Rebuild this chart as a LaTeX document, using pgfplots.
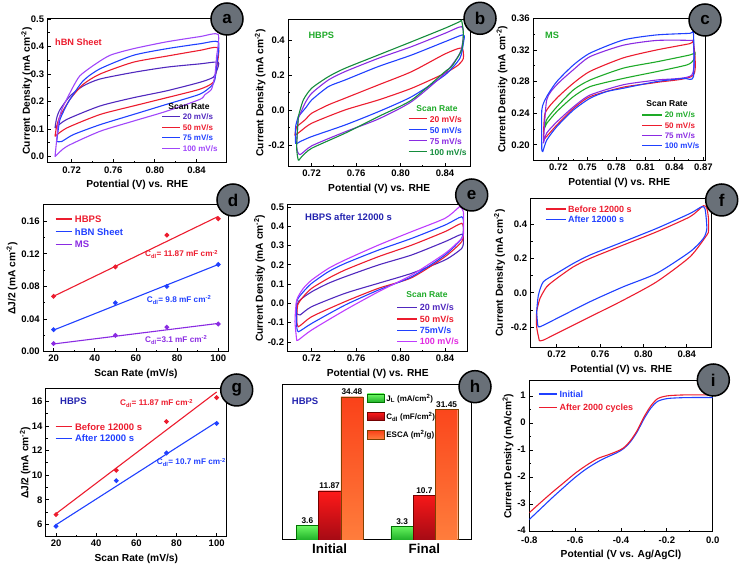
\documentclass[border=0pt]{standalone}
\usepackage{fontspec}
\setmainfont{Liberation Sans}
\usepackage{pgfplots}
\pgfplotsset{compat=1.18}

\definecolor{cred}{RGB}{236,28,46}
\definecolor{cblue}{RGB}{32,64,255}
\definecolor{cviol}{RGB}{160,70,250}
\definecolor{cindigo}{RGB}{80,40,190}
\definecolor{cpurp}{RGB}{138,43,226}
\definecolor{cdgreen}{RGB}{20,140,60}
\definecolor{cgreen}{RGB}{30,170,40}
\definecolor{cmag}{RGB}{190,60,255}
\definecolor{cmagt}{RGB}{225,40,225}
\definecolor{cnavy}{RGB}{35,35,175}
\definecolor{cgray}{RGB}{105,112,120}

\pgfplotsset{
  panel/.style={
    scale only axis, tick pos=left,
    /pgf/number format/assume math mode=true,
    tick label style={font=\fontsize{9.5}{10}\selectfont\bfseries},
    label style={font=\fontsize{10.2}{11}\selectfont\bfseries},
    axis line style={line width=1pt},
    every tick/.style={black, line width=0.8pt},
    major tick length=3.5pt, minor tick length=2pt,
    minor x tick num=1, minor y tick num=1,
    legend cell align=left,
    every axis plot post/.append style={line width=1.1pt},
  },
  fx2/.style={xticklabel style={/pgf/number format/.cd,fixed,fixed zerofill,precision=2}},
  fy1/.style={yticklabel style={/pgf/number format/.cd,fixed,fixed zerofill,precision=1}},
  fy2/.style={yticklabel style={/pgf/number format/.cd,fixed,fixed zerofill,precision=2}},
  cvlab/.style={xlabel={Potential (V) vs. RHE}, ylabel={Current Density (mA cm\textsuperscript{-2})}},
}
\newcommand\TX[5]{\node[anchor=#1, text=#2, font=\fontsize{#3}{#3}\selectfont\bfseries, inner sep=0pt] at (#4) {#5};}
\newcommand\CIRC[2]{\node[circle, draw=black, line width=1.5pt, fill=cgray, minimum size=32pt, inner sep=0pt, font=\fontsize{17}{17}\selectfont\bfseries] at (#1) {#2};}

\begin{document}
\begin{tikzpicture}
\path[use as bounding box] (0,0) rectangle (740pt,567pt);

% ---------- (a) hBN sheet ----------
\begin{axis}[panel, cvlab, fx2, fy1, at={(47.7pt,404pt)}, width=179pt, height=144pt,
  xmin=0.697, xmax=0.869, ymin=-0.023, ymax=0.5,
  xtick={0.72,0.76,0.80,0.84}, ytick={0,0.1,0.2,0.3,0.4,0.5},
  ylabel style={yshift=-8pt},
  legend style={at={(0.637,0.342)}, anchor=north west, draw=none, fill=none, inner sep=0pt, outer sep=0pt, row sep=4.5pt,
    nodes={inner xsep=2pt, inner ysep=0pt, text height=6pt, text depth=0pt}, font=\fontsize{8}{8}\selectfont\bfseries},
  legend image code/.code={\draw[#1, line width=1.1pt] (0pt,0pt) -- (18pt,0pt);}]
\addplot[cindigo, smooth, tension=0.4] coordinates {
 (0.704,0.104) (0.7056,0.14) (0.7088,0.171) (0.7184,0.220) (0.7312,0.257) (0.7472,0.282) (0.7792,0.306) (0.8112,0.325) (0.8432,0.337) (0.8608,0.343)
 (0.8592,0.31) (0.856,0.288) (0.8432,0.270) (0.8112,0.239) (0.7792,0.214) (0.7472,0.184) (0.7152,0.135) (0.704,0.104)};
\addlegendentry{\textcolor{cindigo}{20 mV/s}}
\addplot[cred, smooth, tension=0.4] coordinates {
 (0.704,0.0735) (0.7056,0.11) (0.7088,0.147) (0.7184,0.208) (0.7312,0.263) (0.7472,0.300) (0.7792,0.343) (0.8112,0.365) (0.8432,0.386) (0.8608,0.395)
 (0.8592,0.32) (0.856,0.27) (0.8432,0.245) (0.8112,0.214) (0.7792,0.184) (0.7472,0.153) (0.7152,0.104) (0.704,0.0735)};
\addlegendentry{\textcolor{cred}{50 mV/s}}
\addplot[cblue, smooth, tension=0.4] coordinates {
 (0.7056,0.055) (0.7072,0.10) (0.7088,0.135) (0.7136,0.175) (0.7184,0.208) (0.7312,0.276) (0.7472,0.319) (0.7792,0.368) (0.8112,0.392) (0.8432,0.410) (0.8608,0.417)
 (0.8600,0.35) (0.8576,0.28) (0.8544,0.257) (0.8432,0.227) (0.8112,0.190) (0.7792,0.153) (0.7472,0.116) (0.7216,0.080) (0.7104,0.055) (0.7056,0.055)};
\addlegendentry{\textcolor{cblue}{75 mV/s}}
\addplot[cviol, smooth, tension=0.4] coordinates {
 (0.704,0.000) (0.7056,0.06) (0.7072,0.123) (0.7104,0.17) (0.7152,0.208) (0.7216,0.255) (0.728,0.294) (0.7408,0.331) (0.7568,0.368) (0.7792,0.392) (0.8112,0.417) (0.8432,0.436) (0.8608,0.444)
 (0.8592,0.36) (0.8576,0.294) (0.8544,0.245) (0.848,0.225) (0.8432,0.208) (0.8112,0.165) (0.7792,0.129) (0.7472,0.092) (0.7152,0.037) (0.704,0.0)};
\addlegendentry{\textcolor{cviol}{100 mV/s}}
\end{axis}

% ---------- (b) HBPS ----------
\begin{axis}[panel, cvlab, fx2, fy1, at={(288.3pt,400.3pt)}, width=181.7pt, height=147.4pt,
  xmin=0.699, xmax=0.8625, ymin=-0.324, ymax=0.518,
  xtick={0.72,0.76,0.80,0.84}, ytick={-0.2,0,0.2,0.4},
  ylabel style={yshift=-4pt},
  legend style={at={(0.659,0.345)}, anchor=north west, draw=none, fill=none, inner sep=0pt, outer sep=0pt, row sep=4.8pt,
    nodes={inner xsep=2pt, inner ysep=0pt, text height=6.2pt, text depth=0pt}, font=\fontsize{8.5}{8.5}\selectfont\bfseries},
  legend image code/.code={\draw[#1, line width=1.1pt] (0pt,0pt) -- (18.7pt,0pt);}]
\addplot[cred, smooth, tension=0.4] coordinates {
 (0.7065,-0.095) (0.714,-0.057) (0.72,-0.019) (0.735,0.029) (0.75,0.067) (0.78,0.143) (0.81,0.219) (0.84,0.320) (0.855,0.354)
 (0.8565,0.295) (0.852,0.257) (0.84,0.21) (0.81,0.124) (0.78,0.057) (0.75,0.0) (0.72,-0.076) (0.7095,-0.124) (0.705,-0.143) (0.7065,-0.095)};
\addlegendentry{\textcolor{cred}{20 mV/s}}
\addplot[cblue, smooth, tension=0.4] coordinates {
 (0.708,-0.038) (0.7155,0.019) (0.72,0.057) (0.735,0.133) (0.75,0.171) (0.78,0.248) (0.81,0.314) (0.84,0.39) (0.8565,0.429)
 (0.8565,0.381) (0.8534,0.295) (0.84,0.2) (0.81,0.076) (0.78,-0.01) (0.75,-0.086) (0.72,-0.152) (0.7095,-0.181) (0.7056,-0.19) (0.7056,-0.095) (0.708,-0.038)};
\addlegendentry{\textcolor{cblue}{50 mV/s}}
\addplot[cpurp, smooth, tension=0.4] coordinates {
 (0.708,-0.048) (0.714,0.038) (0.72,0.095) (0.735,0.171) (0.75,0.219) (0.78,0.295) (0.81,0.362) (0.84,0.438) (0.855,0.476)
 (0.8565,0.419) (0.8534,0.324) (0.84,0.21) (0.81,0.048) (0.78,-0.052) (0.75,-0.125) (0.72,-0.205) (0.7095,-0.255) (0.7065,-0.21) (0.708,-0.048)};
\addlegendentry{\textcolor{cpurp}{75 mV/s}}
\addplot[cdgreen, smooth, tension=0.4] coordinates {
 (0.708,-0.038) (0.7125,0.057) (0.72,0.124) (0.735,0.19) (0.75,0.238) (0.78,0.314) (0.81,0.39) (0.84,0.467) (0.8534,0.505) (0.855,0.51)
 (0.8565,0.438) (0.855,0.343) (0.846,0.248) (0.84,0.219) (0.81,0.057) (0.78,-0.038) (0.75,-0.133) (0.72,-0.219) (0.711,-0.267) (0.708,-0.286) (0.7065,-0.21) (0.708,-0.038)};
\addlegendentry{\textcolor{cdgreen}{100 mV/s}}
\end{axis}

% ---------- (c) MS ----------
\begin{axis}[panel, cvlab, fx2, fy2, at={(533.3pt,406.3pt)}, width=172pt, height=142.4pt,
  xmin=0.694, xmax=0.872, ymin=0.18, ymax=0.36,
  xtick={0.72,0.75,0.78,0.81,0.84,0.87}, ytick={0.20,0.24,0.28,0.32,0.36},
  ylabel style={yshift=-3pt},
  legend style={at={(0.630,0.342)}, anchor=north west, draw=none, fill=none, inner sep=0pt, outer sep=0pt, row sep=4.2pt,
    nodes={inner xsep=2pt, inner ysep=0pt, text height=6pt, text depth=0pt}, font=\fontsize{8}{8}\selectfont\bfseries},
  legend image code/.code={\draw[#1, line width=1.1pt] (0pt,0pt) -- (20pt,0pt);}]
\addplot[cgreen, smooth, tension=0.4] coordinates {
 (0.7045,0.217) (0.7079,0.232) (0.7183,0.248) (0.7355,0.2695) (0.7528,0.282) (0.7872,0.297) (0.8217,0.305) (0.8562,0.3137) (0.8614,0.3166)
 (0.8597,0.307) (0.8528,0.301) (0.8217,0.2926) (0.7872,0.284) (0.7528,0.2737) (0.7355,0.261) (0.7183,0.242) (0.7079,0.227) (0.7045,0.217)};
\addlegendentry{\textcolor{cgreen}{20 mV/s}}
\addplot[cred, smooth, tension=0.4] coordinates {
 (0.7045,0.206) (0.7062,0.24) (0.7183,0.259) (0.7355,0.278) (0.7528,0.293) (0.7872,0.31) (0.8217,0.32) (0.8562,0.328) (0.8597,0.3305)
 (0.8597,0.288) (0.8217,0.279) (0.7872,0.273) (0.7528,0.261) (0.7355,0.246) (0.7183,0.225) (0.7045,0.206)};
\addlegendentry{\textcolor{cred}{50 mV/s}}
\addplot[cpurp, smooth, tension=0.4] coordinates {
 (0.7045,0.202) (0.7079,0.257) (0.7183,0.276) (0.7355,0.295) (0.7528,0.3116) (0.7872,0.326) (0.8217,0.332) (0.8562,0.332) (0.8597,0.329)
 (0.8579,0.288) (0.8217,0.282) (0.7872,0.276) (0.7528,0.263) (0.7355,0.248) (0.7183,0.229) (0.7079,0.215) (0.7045,0.202)};
\addlegendentry{\textcolor{cpurp}{75 mV/s}}
\addplot[cblue, smooth, tension=0.4] coordinates {
 (0.7028,0.1937) (0.7028,0.244) (0.7079,0.261) (0.7183,0.28) (0.7355,0.301) (0.7528,0.316) (0.7872,0.3326) (0.8217,0.339) (0.8562,0.341) (0.8597,0.342)
 (0.8597,0.286) (0.8493,0.284) (0.8217,0.28) (0.7872,0.2716) (0.77,0.2674) (0.7528,0.259) (0.7355,0.244) (0.7183,0.223) (0.7079,0.206) (0.7038,0.1916) (0.7028,0.1937)};
\addlegendentry{\textcolor{cblue}{100 mV/s}}
\end{axis}

% ---------- (d) Cdl ----------
\begin{axis}[panel, fy2, at={(43.3pt,215.3pt)}, width=185.3pt, height=146.7pt,
  xmin=15, xmax=105, ymin=0, ymax=0.18,
  xtick={20,40,60,80,100}, ytick={0,0.04,0.08,0.12,0.16},
  xlabel={Scan Rate (mV/s)}, ylabel={ΔJ/2 (mA cm\textsuperscript{-2})},
  ylabel style={yshift=-3pt},
  legend style={at={(0.063,0.928)}, anchor=north west, draw=none, fill=none, inner sep=0pt, outer sep=0pt, row sep=5.7pt,
    nodes={inner xsep=2pt, inner ysep=0pt, text height=7pt, text depth=0pt}, font=\fontsize{9.5}{9.5}\selectfont\bfseries},
  legend image code/.code={\draw[#1, line width=1.3pt] (0pt,0pt) -- (16.7pt,0pt);}]
\addplot[cred] coordinates {(20,0.068) (100,0.166)};
\addlegendentry{\textcolor{cred}{HBPS}}
\addplot[cblue] coordinates {(20,0.0265) (100,0.107)};
\addlegendentry{\textcolor{cblue}{hBN Sheet}}
\addplot[cpurp] coordinates {(20,0.0095) (100,0.0347)};
\addlegendentry{\textcolor{cpurp}{MS}}
\addplot[cred, only marks, mark=*, mark size=1.8pt, forget plot] coordinates {(20,0.068) (50,0.104) (75,0.143) (100,0.163)};
\addplot[cblue, only marks, mark=*, mark size=1.8pt, forget plot] coordinates {(20,0.027) (50,0.060) (75,0.080) (100,0.107)};
\addplot[cpurp, only marks, mark=*, mark size=1.8pt, forget plot] coordinates {(20,0.010) (50,0.020) (75,0.030) (100,0.034)};
\end{axis}

% ---------- (e) HBPS after 12000 s ----------
\begin{axis}[panel, cvlab, fx2, fy1, at={(287.7pt,215.3pt)}, width=180pt, height=146.7pt,
  xmin=0.6984, xmax=0.8604, ymin=-0.2506, ymax=0.51,
  xtick={0.72,0.76,0.80,0.84}, ytick={-0.2,-0.1,0,0.1,0.2,0.3,0.4,0.5}, minor y tick num=0,
  ylabel style={yshift=-4pt},
  legend style={at={(0.606,0.322)}, anchor=north west, draw=none, fill=none, inner sep=0pt, outer sep=0pt, row sep=4.8pt,
    nodes={inner xsep=2pt, inner ysep=0pt, text height=6.5pt, text depth=0pt}, font=\fontsize{9}{9}\selectfont\bfseries},
  legend image code/.code={\draw[#1, line width=1.1pt] (0pt,0pt) -- (20pt,0pt);}]
\addplot[cindigo, smooth, tension=0.4] coordinates {
 (0.7065,-0.052) (0.708,0.009) (0.72,0.06) (0.735,0.104) (0.75,0.138) (0.78,0.199) (0.81,0.251) (0.84,0.32) (0.855,0.358)
 (0.8565,0.328) (0.855,0.285) (0.84,0.225) (0.81,0.156) (0.78,0.104) (0.75,0.052) (0.72,-0.017) (0.7095,-0.06) (0.7065,-0.052)};
\addlegendentry{\textcolor{cindigo}{20 mV/s}}
\addplot[cred, smooth, tension=0.4] coordinates {
 (0.7065,-0.078) (0.7074,-0.009) (0.7125,0.035) (0.72,0.078) (0.735,0.13) (0.75,0.173) (0.78,0.242) (0.81,0.302) (0.84,0.372) (0.855,0.415)
 (0.8565,0.372) (0.855,0.32) (0.84,0.242) (0.81,0.133) (0.78,0.078) (0.75,0.009) (0.72,-0.069) (0.708,-0.121) (0.7065,-0.078)};
\addlegendentry{\textcolor{cred}{50 mV/s}}
\addplot[cblue, smooth, tension=0.4] coordinates {
 (0.7065,-0.112) (0.7065,0.009) (0.7125,0.06) (0.72,0.104) (0.735,0.164) (0.75,0.207) (0.78,0.276) (0.81,0.337) (0.84,0.406) (0.855,0.449)
 (0.8565,0.406) (0.855,0.337) (0.84,0.251) (0.81,0.138) (0.78,0.069) (0.75,-0.009) (0.72,-0.104) (0.708,-0.147) (0.7065,-0.112)};
\addlegendentry{\textcolor{cblue}{75mV/s}}
\addplot[cmag, smooth, tension=0.4] coordinates {
 (0.7065,-0.19) (0.705,-0.095) (0.7065,0.017) (0.7125,0.078) (0.72,0.121) (0.735,0.181) (0.75,0.225) (0.78,0.302) (0.81,0.372) (0.84,0.441) (0.852,0.496) (0.8535,0.501)
 (0.8565,0.475) (0.8565,0.354) (0.8535,0.328) (0.84,0.259) (0.81,0.147) (0.78,0.06) (0.75,-0.035) (0.72,-0.138) (0.708,-0.19) (0.7065,-0.19)};
\addlegendentry{\textcolor{cmagt}{100 mV/s}}
\end{axis}

% ---------- (f) before / after ----------
\begin{axis}[panel, cvlab, fx2, fy1, at={(530.7pt,219.3pt)}, width=181pt, height=149.4pt,
  xmin=0.696, xmax=0.863, ymin=-0.32, ymax=0.55,
  xtick={0.72,0.76,0.80,0.84}, ytick={-0.2,0,0.2,0.4},
  ylabel style={yshift=-1pt},
  legend style={at={(0.079,0.950)}, anchor=north west, draw=none, fill=none, inner sep=0pt, outer sep=0pt, row sep=3.8pt,
    nodes={inner xsep=2pt, inner ysep=0pt, text height=6.5pt, text depth=0pt}, font=\fontsize{9}{9}\selectfont\bfseries},
  legend image code/.code={\draw[#1, line width=1.1pt] (0pt,0pt) -- (20pt,0pt);}]
\addplot[cred, smooth, tension=0.4] coordinates {
 (0.704,-0.28) (0.7015,-0.2) (0.7015,-0.111) (0.7046,-0.033) (0.7108,0.035) (0.72,0.083) (0.7354,0.151) (0.7508,0.2) (0.7815,0.278) (0.8123,0.355) (0.8431,0.443) (0.8554,0.507) (0.8585,0.491) (0.86,0.433)
 (0.86,0.36) (0.8585,0.336) (0.8431,0.21) (0.8123,0.064) (0.7815,-0.043) (0.7508,-0.14) (0.72,-0.237) (0.7077,-0.276) (0.704,-0.28)};
\addlegendentry{\textcolor{cred}{Before 12000 s}}
\addplot[cblue, smooth, tension=0.4] coordinates {
 (0.7015,-0.111) (0.7031,-0.014) (0.7077,0.064) (0.72,0.113) (0.7354,0.171) (0.7508,0.22) (0.7815,0.297) (0.8123,0.375) (0.8431,0.462) (0.8538,0.501) (0.8569,0.487)
 (0.8585,0.375) (0.8554,0.317) (0.8431,0.239) (0.8123,0.113) (0.7815,0.035) (0.7508,-0.052) (0.72,-0.15) (0.7046,-0.198) (0.7025,-0.188) (0.7015,-0.111)};
\addlegendentry{\textcolor{cblue}{After 12000 s}}
\end{axis}

% ---------- (g) Cdl before / after ----------
\begin{axis}[panel, at={(46pt,30.3pt)}, width=180.7pt, height=147.7pt,
  xmin=15, xmax=105, ymin=5, ymax=17,
  xtick={20,40,60,80,100}, ytick={6,8,10,12,14,16},
  xlabel={Scan Rate (mV/s)}, ylabel={ΔJ/2 (mA cm\textsuperscript{-2})},
  ylabel style={yshift=-5.5pt},
  legend style={at={(0.05,0.768)}, anchor=north west, draw=none, fill=none, inner sep=0pt, outer sep=0pt, row sep=4.6pt,
    nodes={inner xsep=2pt, inner ysep=0pt, text height=7pt, text depth=0pt}, font=\fontsize{9.5}{9.5}\selectfont\bfseries},
  legend image code/.code={\draw[#1, line width=1.3pt] (0pt,0pt) -- (16.7pt,0pt);}]
\addplot[cred] coordinates {(20,6.87) (100,16.76)};
\addlegendentry{\textcolor{cred}{Before 12000 s}}
\addplot[cblue] coordinates {(20,5.97) (100,14.32)};
\addlegendentry{\textcolor{cblue}{After 12000 s}}
\addplot[cred, only marks, mark=*, mark size=1.8pt, forget plot] coordinates {(20,6.8) (50,10.4) (75,14.35) (100,16.3)};
\addplot[cblue, only marks, mark=*, mark size=1.8pt, forget plot] coordinates {(20,5.85) (50,9.55) (75,11.8) (100,14.2)};
\end{axis}

% ---------- (h) bars ----------
\begin{axis}[scale only axis, at={(282.3pt,27pt)}, width=189.4pt, height=155pt,
  xmin=-0.5, xmax=1.5, ymin=0, ymax=37.3,
  xtick={0,1}, xticklabels={Initial,Final}, ytick=\empty, major tick length=0pt,
  axis line style={line width=1pt},
  /pgf/number format/assume math mode=true,
  x tick label style={font=\fontsize{13.4}{14}\selectfont\bfseries},
  nodes near coords,
  every node near coord/.append style={font=\fontsize{8.3}{9}\selectfont\bfseries, text=black, inner sep=1.5pt},
  legend cell align=left,
  legend style={at={(0.449,0.943)}, anchor=north west, draw=none, fill=none, inner sep=0pt, outer sep=0pt, row sep=9.7pt,
    nodes={inner xsep=2pt, inner ysep=0pt, text height=6pt, text depth=0pt}, font=\fontsize{8}{8}\selectfont\bfseries}]
\addplot[ybar, bar width=0.235, bar shift=0pt, draw=green!45!black, line width=0.3pt,
  top color={rgb,255:red,110;green,250;blue,100}, bottom color={rgb,255:red,30;green,175;blue,40},
  legend image code/.code={\path[draw=green!45!black, line width=0.3pt, top color={rgb,255:red,110;green,250;blue,100}, bottom color={rgb,255:red,30;green,175;blue,40}] (0pt,-4.15pt) rectangle (16.7pt,4.15pt);}]
  coordinates {(-0.235,3.6) (0.765,3.3)};
\addlegendentry{J\textsubscript{L} (mA/cm\textsuperscript{2})}
\addplot[ybar, bar width=0.235, bar shift=0pt, draw=red!45!black, line width=0.3pt,
  top color={rgb,255:red,255;green,25;blue,25}, bottom color={rgb,255:red,165;green,10;blue,20},
  legend image code/.code={\path[draw=red!45!black, line width=0.3pt, top color={rgb,255:red,255;green,25;blue,25}, bottom color={rgb,255:red,165;green,10;blue,20}] (0pt,-4.15pt) rectangle (16.7pt,4.15pt);}]
  coordinates {(0,11.87) (1,10.7)};
\addlegendentry{C\textsubscript{dl} (mF/cm\textsuperscript{2})}
\addplot[ybar, bar width=0.235, bar shift=0pt, draw=orange!50!black, line width=0.3pt,
  top color={rgb,255:red,250;green,65;blue,25}, bottom color={rgb,255:red,255;green,125;blue,60},
  legend image code/.code={\path[draw=orange!50!black, line width=0.3pt, top color={rgb,255:red,250;green,65;blue,25}, bottom color={rgb,255:red,255;green,125;blue,60}] (0pt,-4.15pt) rectangle (16.7pt,4.15pt);}]
  coordinates {(0.235,34.48) (1.235,31.45)};
\addlegendentry{ESCA (m\textsuperscript{2}/g)}
\end{axis}

% ---------- (i) LSV ----------
\begin{axis}[panel, fy1, at={(529.3pt,35.3pt)}, width=183.4pt, height=150.7pt,
  xmin=-0.8, xmax=0, ymin=-4, ymax=1.55,
  xtick={-0.8,-0.6,-0.4,-0.2,0}, ytick={-4,-3,-2,-1,0,1},
  xticklabel style={/pgf/number format/.cd,fixed,fixed zerofill,precision=1, /tikz/yshift=-1.5pt},
  yticklabel style={/pgf/number format/.cd,fixed,precision=0, /tikz/yshift=1pt},
  xlabel={Potential (V vs. Ag/AgCl)}, ylabel={Current Density (mA/cm\textsuperscript{2})},
  ylabel style={yshift=-3pt},
  legend style={at={(0.049,0.935)}, anchor=north west, draw=none, fill=none, inner sep=0pt, outer sep=0pt, row sep=6.8pt,
    nodes={inner xsep=2pt, inner ysep=0pt, text height=6.5pt, text depth=0pt}, font=\fontsize{9}{9}\selectfont\bfseries},
  legend image code/.code={\draw[#1, line width=1.1pt] (0pt,0pt) -- (18.3pt,0pt);}]
\addplot[cblue, smooth, tension=0.5] coordinates {
 (-0.8,-3.55) (-0.75,-3.15) (-0.7,-2.75) (-0.65,-2.37) (-0.6,-2.0) (-0.55,-1.68) (-0.5,-1.42) (-0.46,-1.25) (-0.42,-1.1) (-0.39,-0.95)
 (-0.36,-0.7) (-0.33,-0.33) (-0.3,0.15) (-0.27,0.55) (-0.24,0.8) (-0.2,0.9) (-0.15,0.93) (-0.1,0.94) (0,0.94)};
\addlegendentry{\textcolor{cblue}{Initial}}
\addplot[cred, smooth, tension=0.5] coordinates {
 (-0.8,-3.3) (-0.75,-2.92) (-0.7,-2.55) (-0.65,-2.2) (-0.6,-1.85) (-0.55,-1.55) (-0.5,-1.3) (-0.46,-1.18) (-0.42,-1.05) (-0.39,-0.92)
 (-0.36,-0.66) (-0.33,-0.28) (-0.3,0.22) (-0.27,0.63) (-0.24,0.9) (-0.2,1.0) (-0.15,1.03) (-0.1,1.04) (0,1.04)};
\addlegendentry{\textcolor{cred}{After 2000 cycles}}
\end{axis}

% ---------- text labels ----------
\TX{west}{cred}{9.2}{55pt,525pt}{hBN Sheet}
\TX{center}{black}{8.5}{189pt,460pt}{Scan Rate}
\TX{west}{cgreen}{9.2}{308.3pt,532pt}{HBPS}
\TX{center}{cgreen}{8.5}{437pt,458.7pt}{Scan Rate}
\TX{west}{cgreen}{9.2}{545pt,532pt}{MS}
\TX{center}{black}{8.5}{667pt,463.7pt}{Scan Rate}
\TX{west}{cred}{8.2}{145pt,312.7pt}{C\textsubscript{dl}= 11.87 mF cm\textsuperscript{-2}}
\TX{west}{cblue}{8.2}{146.7pt,267pt}{C\textsubscript{dl}= 9.8 mF cm\textsuperscript{-2}}
\TX{west}{cpurp}{8.2}{145pt,227pt}{C\textsubscript{dl}=3.1 mF cm\textsuperscript{-2}}
\TX{west}{cnavy}{9.5}{305pt,350.3pt}{HBPS after 12000 s}
\TX{center}{cgreen}{8.5}{427pt,272.7pt}{Scan Rate}
\TX{west}{cnavy}{9.5}{60pt,166pt}{HBPS}
\TX{west}{cred}{8.2}{120pt,163.7pt}{C\textsubscript{dl}= 11.87 mF cm\textsuperscript{-2}}
\TX{west}{cblue}{8.2}{156.7pt,104.7pt}{C\textsubscript{dl}= 10.7 mF cm\textsuperscript{-2}}
\TX{west}{cnavy}{9.5}{291.7pt,165.3pt}{HBPS}

% ---------- panel letters ----------
\CIRC{227pt,548pt}{a}
\CIRC{480pt,548.7pt}{b}
\CIRC{705pt,547pt}{c}
\CIRC{233pt,367pt}{d}
\CIRC{471.7pt,372pt}{e}
\CIRC{721.7pt,367pt}{f}
\CIRC{236.7pt,177pt}{g}
\CIRC{475pt,180.3pt}{h}
\CIRC{713.3pt,187pt}{i}
\end{tikzpicture}
\end{document}
